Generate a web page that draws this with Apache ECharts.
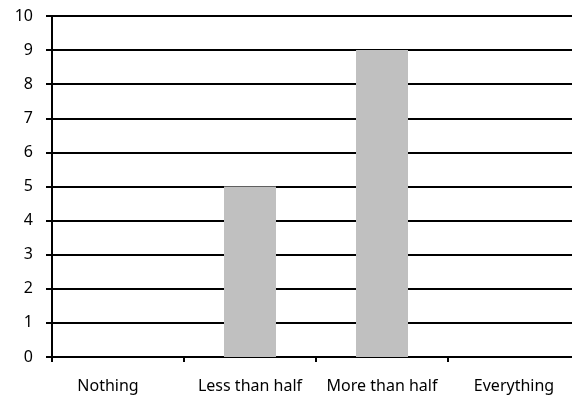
<!DOCTYPE html>
<html>
<head>
<meta charset="utf-8">
<script src="https://cdn.jsdelivr.net/npm/echarts@6/dist/echarts.min.js"></script>
<style>
html,body{margin:0;padding:0;background:#fff}
#chart{width:572px;height:398px}
</style>
</head>
<body>
<div id="chart"></div>
<script>
var categories = ['Nothing', 'Less than half', 'More than half', 'Everything'];
var values = [0, 5, 9, 0];
var yTicks = [0, 1, 2, 3, 4, 5, 6, 7, 8, 9, 10];

var chart = echarts.init(document.getElementById('chart'));

var option = {
    animation: false,
    grid: {
        left: 52,
        top: 16,
        width: 528,
        bottom: 41,
        containLabel: false,
        outerBoundsMode: 'none'
    },
    xAxis: {
        type: 'category',
        data: categories,
        axisLine: { lineStyle: { color: '#000', width: 2 } },
        axisTick: { show: true, interval: 0, length: 5, lineStyle: { color: '#000', width: 2 } },
        axisLabel: {
            interval: 0,
            hideOverlap: false,
            color: '#000',
            fontFamily: 'Noto Sans',
            fontSize: 16,
            margin: 21,
            // excel pushes the first label a bit to the left
            formatter: function (v, i) {
                return i === 0 ? '{first|' + v + '}' : v;
            },
            rich: {
                first: { fontFamily: 'Noto Sans', fontSize: 16, color: '#000', padding: [0, 20, 0, 0] }
            }
        },
        splitLine: { show: false }
    },
    yAxis: {
        type: 'value',
        min: yTicks[0],
        max: yTicks[yTicks.length - 1],
        interval: 1,
        axisLine: { show: true, lineStyle: { color: '#000', width: 2 } },
        axisTick: { show: true, length: 6, lineStyle: { color: '#000', width: 2 } },
        axisLabel: { color: '#000', fontFamily: 'Noto Sans', fontSize: 16, margin: 19 },
        splitLine: { show: true, lineStyle: { color: '#000', width: 2 } }
    },
    series: [{
        type: 'bar',
        data: values,
        barWidth: 52,
        itemStyle: { color: '#c0c0c0' }
    }]
};
chart.setOption(option);
</script>
</body>
</html>
